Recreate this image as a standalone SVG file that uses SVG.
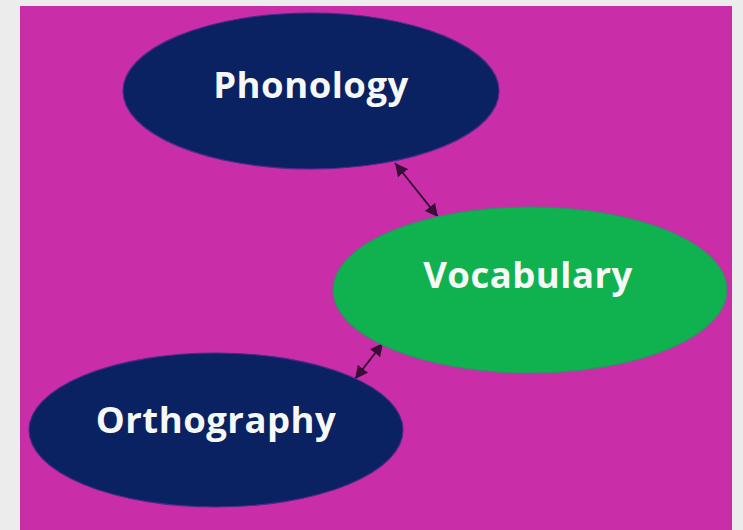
<svg xmlns="http://www.w3.org/2000/svg" width="743" height="530" viewBox="0 0 743 530">
  <defs>
    <style>
      .navy { fill: #0A2162; stroke: #4A2A8A; stroke-width: 1.2; }
      .green { fill: #10B24F; stroke: #3A8A6A; stroke-width: 1.2; }
      .label { font-family: "Open Sans", "Liberation Sans", sans-serif; font-weight: bold; font-size: 36.5px; fill: #F6F8F6; text-anchor: middle; letter-spacing: 0.5px; }
      .conn { stroke: #3A0C3A; stroke-width: 2; fill: none; marker-start: url(#arrow); marker-end: url(#arrow); }
    </style>
    <marker id="arrow" viewBox="0 0 10 10" refX="10" refY="5" markerWidth="6.5" markerHeight="6.5" orient="auto-start-reverse" markerUnits="strokeWidth">
      <path d="M0,0 L10,5 L0,10 Z" fill="#3A0C3A"/>
    </marker>
  </defs>
  <rect x="0" y="0" width="743" height="530" fill="#ECECEC"/>
  <rect x="20" y="6" width="712" height="524" fill="#C92EA8"/>
  <g id="connectors">
    <line class="conn" x1="395" y1="163" x2="438" y2="217"/>
    <line class="conn" x1="355" y1="379" x2="383" y2="343"/>
  </g>
  <g id="phonology">
    <ellipse class="navy" cx="311" cy="91" rx="188" ry="78"/>
    <text class="label" x="311" y="98">Phonology</text>
  </g>
  <g id="vocabulary">
    <ellipse class="green" cx="530" cy="290" rx="197" ry="83"/>
    <text class="label" x="528" y="288">Vocabulary</text>
  </g>
  <g id="orthography">
    <ellipse class="navy" cx="216" cy="430" rx="187" ry="77"/>
    <text class="label" x="216" y="433">Orthography</text>
  </g>
</svg>
